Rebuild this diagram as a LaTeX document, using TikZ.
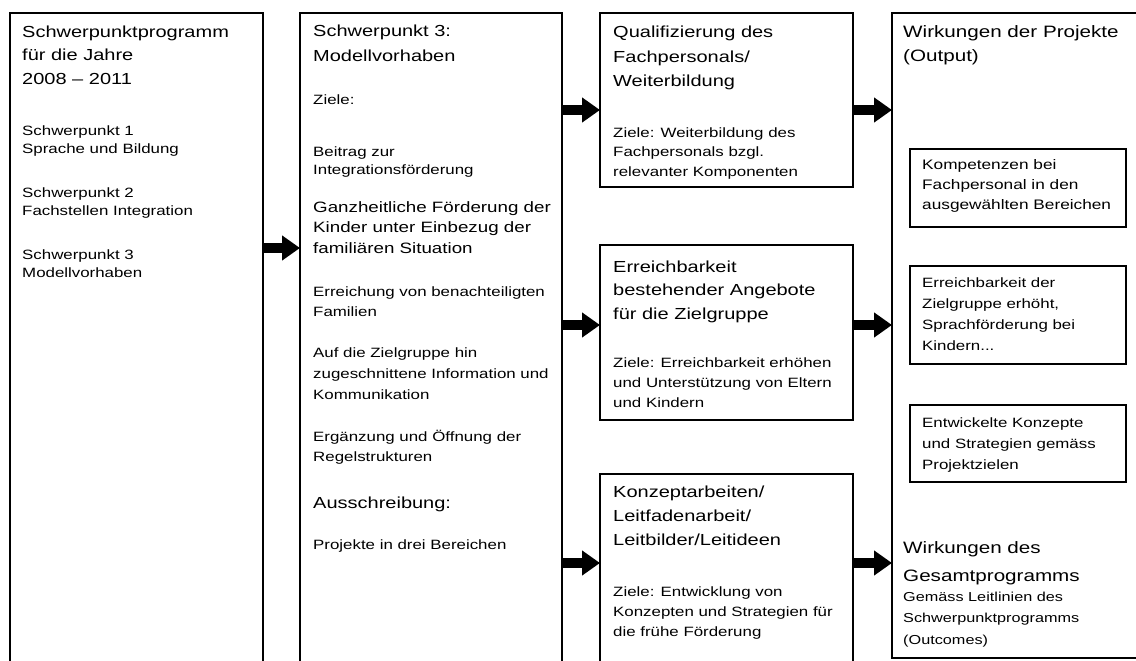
\documentclass[tikz,border=0pt]{standalone}
\usepackage{fontspec}
\setmainfont{Liberation Sans}[FakeStretch=1.25]
\usetikzlibrary{arrows.meta}
\begin{document}
\begin{tikzpicture}[x=1pt,y=-1pt,
  box/.style={draw, line width=2pt, rectangle, inner sep=0pt, outer sep=0pt, anchor=north west},
  blockarrow/.style={line width=10pt, -{Triangle[length=18pt,width=24pt]}},
  txt/.style={anchor=base west, inner sep=0pt, align=left},
  head/.style={txt, font=\fontsize{16}{24}\selectfont},
  body/.style={txt, font=\fontsize{13.5}{19.5}\selectfont},
]
\useasboundingbox (0,0) rectangle (1136,661);
\clip (0,0) rectangle (1136,661);

% boxes
\node[box, minimum width=253pt, minimum height=680pt] (b1) at (10,13) {};
\node[box, minimum width=262pt, minimum height=680pt] (b2) at (300,13) {};
\node[box, minimum width=253pt, minimum height=174pt] (c1) at (600,13) {};
\node[box, minimum width=253pt, minimum height=175pt] (c2) at (600,245) {};
\node[box, minimum width=253pt, minimum height=680pt] (c3) at (600,474) {};
\node[box, minimum width=280pt, minimum height=645pt] (d) at (892,13) {};
\node[box, minimum width=216pt, minimum height=78pt] (i1) at (910,149) {};
\node[box, minimum width=216pt, minimum height=98pt] (i2) at (910,266) {};
\node[box, minimum width=216pt, minimum height=77pt] (i3) at (910,405) {};

% arrow rows
\coordinate (r0) at (0,248);
\coordinate (r1) at (0,110);
\coordinate (r2) at (0,325);
\coordinate (r3) at (0,563);
\draw[blockarrow] (b1.east |- r0) -- (b2.west |- r0);
\draw[blockarrow] (b2.east |- r1) -- (c1.west |- r1);
\draw[blockarrow] (b2.east |- r2) -- (c2.west |- r2);
\draw[blockarrow] (b2.east |- r3) -- (c3.west |- r3);
\draw[blockarrow] (c1.east |- r1) -- (d.west |- r1);
\draw[blockarrow] (c2.east |- r2) -- (d.west |- r2);
\draw[blockarrow] (c3.east |- r3) -- (d.west |- r3);

% texts (anchor = baseline of the last line)
% column 1
\node[head, font=\fontsize{16}{23.5}\selectfont] (t1) at (22,84.5) {Schwerpunktprogramm\\für die Jahre\\2008 – 2011};
\node[body, font=\fontsize{13.5}{18.5}\selectfont] (t1a) at (22,153.5) {Schwerpunkt 1\\Sprache und Bildung};
\node[body, font=\fontsize{13.5}{18.5}\selectfont] (t1b) at (22,215.5) {Schwerpunkt 2\\Fachstellen Integration};
\node[body, font=\fontsize{13.5}{18.5}\selectfont] (t1c) at (22,277.5) {Schwerpunkt 3\\Modellvorhaben};

% column 2
\node[head, font=\fontsize{16}{25}\selectfont] (t2) at (313,62) {Schwerpunkt 3:\\Modellvorhaben};
\node[body] (t2a) at (313,105) {Ziele:};
\node[body, font=\fontsize{13.5}{18}\selectfont] (t2b) at (313,174) {Beitrag zur\\Integrationsförderung};
\node[body, font=\fontsize{15}{20.5}\selectfont] (t2c) at (313,253) {Ganzheitliche Förderung der\\Kinder unter Einbezug der\\familiären Situation};
\node[body, font=\fontsize{13.5}{20}\selectfont] (t2d) at (313,316) {Erreichung von benachteiligten\\Familien};
\node[body, font=\fontsize{13.5}{21}\selectfont] (t2e) at (313,399) {Auf die Zielgruppe hin\\zugeschnittene Information und\\Kommunikation};
\node[body, font=\fontsize{13.5}{20}\selectfont] (t2f) at (313,461) {Ergänzung und Öffnung der\\Regelstrukturen};
\node[head] (t2g) at (313,508) {Ausschreibung:};
\node[body] (t2h) at (313,549) {Projekte in drei Bereichen};

% column 3
\node[head, font=\fontsize{16}{24.5}\selectfont] (t3a) at (613,87) {Qualifizierung des\\Fachpersonals/\\Weiterbildung};
\node[body] (t3b) at (613,176) {Ziele: Weiterbildung des\\Fachpersonals bzgl.\\relevanter Komponenten};
\node[head, font=\fontsize{16}{23.5}\selectfont] (t3c) at (613,319) {Erreichbarkeit\\bestehender Angebote\\für die Zielgruppe};
\node[body, font=\fontsize{13.5}{20}\selectfont] (t3d) at (613,407) {Ziele: Erreichbarkeit erhöhen\\und Unterstützung von Eltern\\und Kindern};
\node[head, font=\fontsize{16}{24}\selectfont] (t3e) at (613,545) {Konzeptarbeiten/\\Leitfadenarbeit/\\Leitbilder/Leitideen};
\node[body, font=\fontsize{13.5}{20}\selectfont] (t3f) at (613,636) {Ziele: Entwicklung von\\Konzepten und Strategien für\\die frühe Förderung};

% column 4
\node[head, font=\fontsize{16.5}{24}\selectfont] (t4a) at (903,62) {Wirkungen der Projekte\\(Output)};
\node[body, font=\fontsize{13.8}{20}\selectfont] (t4b) at (922,209) {Kompetenzen bei\\Fachpersonal in den\\ausgewählten Bereichen};
\node[body, font=\fontsize{13.5}{21}\selectfont] (t4c) at (922,350) {Erreichbarkeit der\\Zielgruppe erhöht,\\Sprachförderung bei\\Kindern...};
\node[body, font=\fontsize{13.5}{21}\selectfont] (t4d) at (922,469) {Entwickelte Konzepte\\und Strategien gemäss\\Projektzielen};
\node[head, font=\fontsize{16.5}{28}\selectfont] (t4e) at (903,581) {Wirkungen des\\Gesamtprogramms};
\node[body, font=\fontsize{13}{21.5}\selectfont] (t4f) at (903,644) {Gemäss Leitlinien des\\Schwerpunktprogramms\\(Outcomes)};
\end{tikzpicture}
\end{document}
